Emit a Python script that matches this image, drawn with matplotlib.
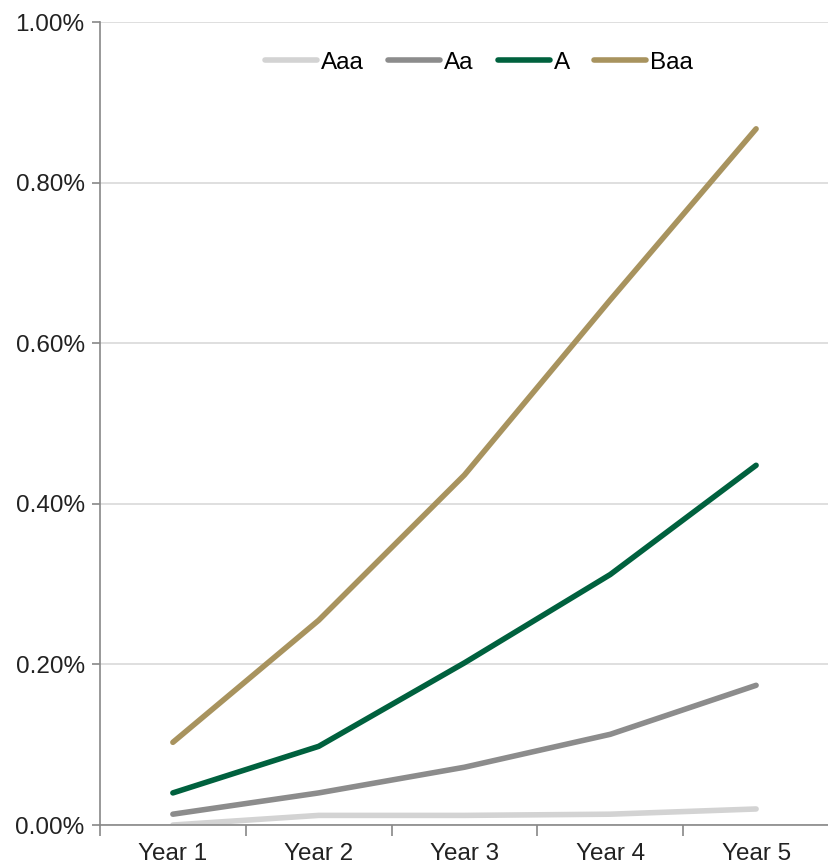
import matplotlib.pyplot as plt
from matplotlib.ticker import FuncFormatter

# ------------------- data -------------------
years = ['Year 1', 'Year 2', 'Year 3', 'Year 4', 'Year 5']
aaa = [0.000, 0.012, 0.012, 0.0135, 0.020]
aa = [0.0135, 0.040, 0.072, 0.113, 0.174]
a = [0.040, 0.098, 0.202, 0.312, 0.448]
baa = [0.103, 0.255, 0.436, 0.654, 0.867]

series_names = ['Aaa', 'Aa', 'A', 'Baa']
series_colors = ['#D3D3D3', '#8C8C8C', '#00613E', '#A8935E']


def main():
    plt.rcParams['font.family'] = ['Liberation Sans', 'DejaVu Sans']
    fig = plt.figure(figsize=(8.29, 8.64), dpi=100)
    ax = fig.add_axes([0.1206, 0.0451, 0.8794, 0.9294])

    x = list(range(len(years)))
    for vals, name, col in zip([aaa, aa, a, baa], series_names, series_colors):
        ax.plot(x, vals, color=col, lw=4, label=name, solid_capstyle='round',
                solid_joinstyle='round')

    ax.set_xlim(-0.5, 4.5)
    ax.set_ylim(0, 1.0)
    ax.set_yticks([0, 0.2, 0.4, 0.6, 0.8, 1.0])
    ax.yaxis.set_major_formatter(FuncFormatter(lambda v, p: f'{v:.2f}%'))
    ax.yaxis.grid(True, color='#D9D9D9', lw=1.2)
    ax.set_axisbelow(True)

    # category labels centred, ticks on the boundaries
    ax.set_xticks(x)
    ax.set_xticklabels(years)
    ax.set_xticks([-0.5, 0.5, 1.5, 2.5, 3.5, 4.5], minor=True)
    ax.tick_params(axis='x', which='major', length=0, pad=13, labelsize=17.5, labelcolor='#222222')
    ax.tick_params(axis='x', which='minor', length=8, width=1.2, color='#888888')
    ax.tick_params(axis='y', length=6, width=1.2, color='#888888', labelsize=17.5,
                   labelcolor='#222222', pad=5)

    for s in ['top', 'right']:
        ax.spines[s].set_visible(False)
    for s in ['left', 'bottom']:
        ax.spines[s].set_color('#888888')
        ax.spines[s].set_linewidth(1.2)

    ax.legend(loc='upper center', bbox_to_anchor=(0.52, 0.99), ncol=4, frameon=False,
              fontsize=17.5, handlelength=2.15, handletextpad=0.15, columnspacing=1.0)

    fig.savefig('out.png', dpi=100)


if __name__ == '__main__':
    main()
